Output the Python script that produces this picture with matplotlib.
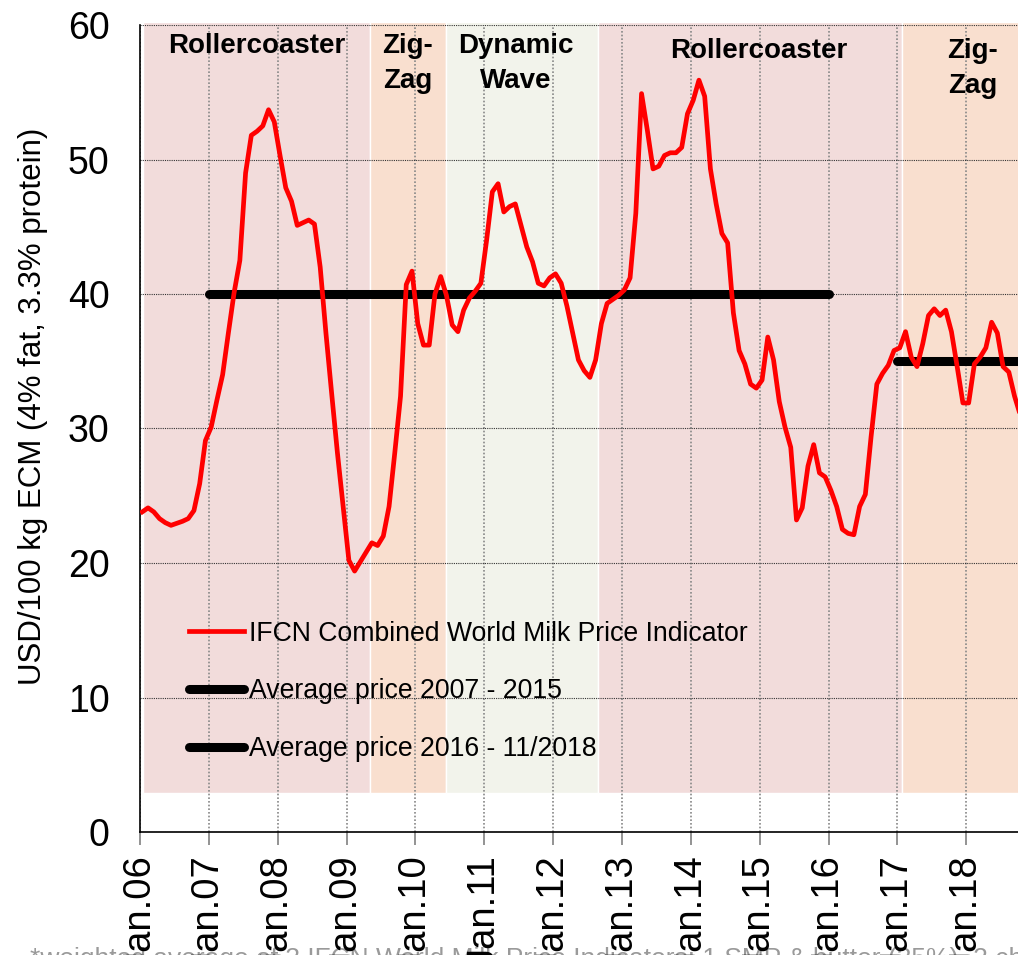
import numpy as np
import matplotlib
matplotlib.use("Agg")
import matplotlib.pyplot as plt

plt.rcParams['font.family'] = ['Liberation Sans', 'DejaVu Sans']

# Monatswerte ab Jan 2006 (USD/100 kg ECM)
price = [
    23.8, 24.1, 23.8, 23.3, 23.0, 22.8, 22.95, 23.1, 23.3, 23.9, 25.9, 29.1,
    30.1, 32.1, 34.0, 37.1, 40.1, 42.5, 49.0, 51.8, 52.1, 52.5, 53.7, 52.8,
    50.3, 47.9, 46.9, 45.1, 45.3, 45.5, 45.2, 42.0, 37.1, 32.6, 28.2, 24.2,
    20.2, 19.4, 20.1, 20.8, 21.5, 21.3, 22.0, 24.2, 28.2, 32.4, 40.7, 41.7,
    37.8, 36.2, 36.2, 40.0, 41.3, 39.9, 37.7, 37.2, 38.8, 39.7, 40.2, 40.8,
    44.0, 47.6, 48.2, 46.1, 46.5, 46.7, 45.1, 43.5, 42.4, 40.8, 40.6, 41.2,
    41.5, 40.8, 39.1, 37.1, 35.1, 34.3, 33.8, 35.1, 37.8, 39.3, 39.6, 39.9,
    40.3, 41.2, 46.0, 54.9, 52.2, 49.3, 49.5, 50.3, 50.5, 50.5, 50.9, 53.4,
    54.4, 55.9, 54.7, 49.3, 46.7, 44.5, 43.8, 38.6, 35.8, 34.8, 33.3, 33.0,
    33.6, 36.8, 35.1, 32.0, 30.1, 28.6, 23.2, 24.1, 27.2, 28.8, 26.7, 26.4,
    25.4, 24.2, 22.5, 22.2, 22.1, 24.2, 25.1, 29.4, 33.3, 34.1, 34.7, 35.8,
    36.0, 37.2, 35.3, 34.6, 36.3, 38.4, 38.9, 38.4, 38.8, 37.2, 34.6, 31.9,
    31.9, 34.8, 35.3, 36.0, 37.9, 37.1, 34.6, 34.2, 32.4, 31.0,
]

# Durchschnittspreise (Monat Start, Monat Ende, Wert)
avg1 = (12, 120, 40.0)
avg2 = (132, 170, 35.0)

# Marktphasen
phase_names = ['Rollercoaster', 'Zig-\nZag', 'Dynamic\nWave', 'Rollercoaster', 'Zig-\nZag']
phase_start = [0.5, 40.1, 53.3, 79.8, 132.7]
phase_end = [40.1, 53.3, 79.8, 132.7, 170]
phase_colors = ['#F2DCDB', '#F9DFCF', '#F2F3EB', '#F2DCDB', '#F9DFCF']
phase_label_x = [20.4, 46.7, 65.5, 107.8, 145.1]
phase_label_y = [59.4, 59.4, 59.4, 59.0, 59.0]

years = list(range(2006, 2019))
xtick_labels = ['Jan.%02d' % (y % 100) for y in years]

fig = plt.figure(figsize=(10.18, 9.55), dpi=100)
ax = fig.add_axes([140 / 1018, 123 / 955, 878 / 1018, 807 / 955])

# Hintergrund-Phasen
for s, e, c in zip(phase_start, phase_end, phase_colors):
    ax.bar(s, 60.25 - 2.9, width=e - s, bottom=2.9, align='edge', color=c,
           edgecolor='white', linewidth=1, zorder=0.1, clip_on=False)

for name, x, y in zip(phase_names, phase_label_x, phase_label_y):
    ax.text(x, y, name, ha='center', va='top', fontsize=20, fontweight='bold',
            linespacing=1.45, zorder=5)

x = np.arange(len(price)) + 0.4
l1, = ax.plot(x, price, color='#FF0000', lw=3.4, zorder=4,
              label='IFCN Combined World Milk Price Indicator')
l2, = ax.plot([avg1[0], avg1[1]], [avg1[2], avg1[2]], color='black', lw=6.5,
              solid_capstyle='round', zorder=3, label='Average price 2007 - 2015')
l3, = ax.plot([avg2[0], avg2[1]], [avg2[2], avg2[2]], color='black', lw=6.5,
              solid_capstyle='round', zorder=3, label='Average price 2016 - 11/2018')

leg = ax.legend(handles=[l1, l2, l3], loc='upper left', bbox_to_anchor=(0.0558, 0.262),
                frameon=False, fontsize=19.2, handlelength=2.05, handletextpad=0.2,
                labelspacing=1.19, borderpad=0, borderaxespad=0)

ax.set_xlim(0, 153)
ax.set_ylim(0, 60)
ax.set_yticks(range(0, 61, 10))
ax.set_xticks([12 * i for i in range(len(years))])
ax.set_xticklabels(xtick_labels, rotation=90)
ax.tick_params(axis='x', labelsize=27.5, length=9, color='#808080', width=1.2, pad=8)
ax.tick_params(axis='y', labelsize=27, length=0, pad=22)

ax.set_axisbelow(True)
ax.grid(axis='y', color='#333333', linestyle=(0, (1, 1)), linewidth=0.8)
ax.grid(axis='x', color='#888888', linestyle=(0, (1, 1.2)), linewidth=1.2)

for sp in ['top', 'right']:
    ax.spines[sp].set_visible(False)
ax.spines['left'].set_linewidth(1.2)
ax.spines['bottom'].set_linewidth(1.2)

ax.set_ylabel('USD/100 kg ECM (4% fat, 3.3% protein)', fontsize=22.5)
ax.yaxis.set_label_coords(-0.105, 0.527)

fig.text(30 / 1018, -0.012, '*weighted average of 3 IFCN World Milk Price Indicators: '
         '1 SMP & butter (35%), 2 cheese & whey (45%), 3 WMP (20%)',
         fontsize=19, color='#9A9A9A', va='baseline', ha='left', zorder=-1)

fig.savefig('out.png', dpi=100)
